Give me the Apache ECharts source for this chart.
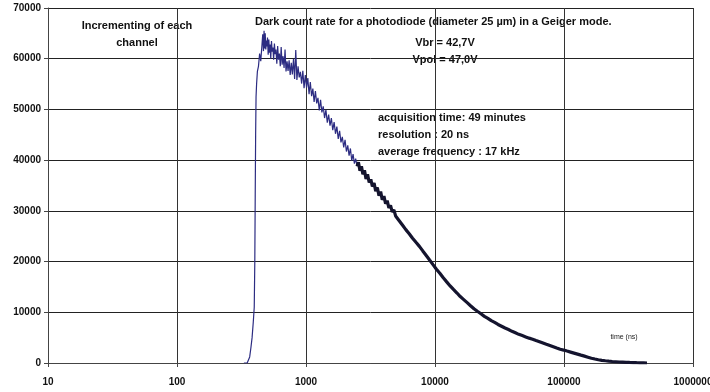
<!DOCTYPE html>
<html><head><meta charset="utf-8">
<script src="https://cdn.jsdelivr.net/npm/echarts@6/dist/echarts.min.js"></script>
<style>html,body{margin:0;padding:0;background:#fff}#c{width:710px;height:392px}</style>
</head><body><div id="c"></div>
<script>
// x tick labels (log axis, ns) and y tick labels
const xTickLabels = ['10','100','1000','10000','100000','1000000'];
const yTickLabels = ['0','10000','20000','30000','40000','50000','60000','70000'];

// rising edge and noisy peak region (thin line)
const earlyX = [330,350,358,366,374,382,390,397,401,404,407,410,414,420,428,437,446,455,462,468,473,478,483,488,493,498,503,509,515,521,527,533,540,547,554,561,569,577,585,594,603,612,622,632,642,653,664,676,688,700,713,726,740,754,769,784,800,816,833,850,868,886,905,925,945,966,988,1010,1033,1056,1080,1105,1130,1156,1183,1210,1238,1267,1297,1328,1360,1393,1427,1462,1498,1535,1573,1612,1652,1693,1735,1778,1822,1867,1913,1960,2008,2057,2107,2158,2210,2263,2317,2372,2428,2485];
const earlyY = [0,0,300,1200,3000,5000,8000,11000,20000,33000,45000,52500,55000,57500,58500,61000,59500,62500,64800,61500,65500,62000,65000,61800,63600,62400,64200,60800,63800,61200,62800,60000,63500,61400,62200,59800,63000,60900,61800,59000,62500,59800,61000,58500,62300,58800,60500,58200,61800,57500,59500,57600,59700,56800,59200,56900,60000,56000,61700,55800,58500,56300,57400,55100,57600,54200,56800,54300,56200,53000,55400,52600,54100,51500,53600,51200,52300,49800,51900,49400,50600,48300,49900,47400,49000,46800,48300,45900,47500,45200,46600,44200,45800,43500,44600,42500,44000,41700,42900,40900,42300,39900,41200,39300,40300,38800];

// decay tail (dense, drawn thick)
const tailX = [2485,2550,2620,2690,2760,2840,2920,3000,3090,3180,3270,3370,3470,3570,3680,3790,3900,4020,4140,4260,4390,4520,4660,4800,4950,5100,5260,5420,5590,5760,5940,6120,6310,6500,6700,6910,7120,7340,7570,7800,8040,8290,8550,8810,9080,9360,9650,9950,10260,10900,11590,12320,13100,13900,14800,15700,16700,17750,18850,20050,21300,22700,24150,25700,27300,29000,30800,32800,34900,37100,39500,42000,44600,47500,50500,53700,57100,60700,64600,68700,73000,77700,82600,87800,93400,99300,105600,112400,119600,127300,135400,144100,153300,163100,173500,184600,196400,209000,222400,236600,251800,267900,285000,303300,322700,343300,365300,388700,413500,440000];
const tailY = [38800,39600,37900,38800,37200,38000,36300,37200,35600,36200,34800,35500,33900,34600,33000,33800,32200,32900,31400,32000,30600,31100,29800,30200,29000,29300,28100,28400,27200,27500,26300,26600,25500,25700,24600,24800,23800,23900,23000,23000,22100,22000,21200,21100,20300,20100,19400,19200,18500,17700,16800,16000,15200,14500,13800,13100,12500,11900,11300,10700,10200,9700,9200,8800,8350,8000,7600,7250,6900,6600,6250,5950,5650,5400,5150,4900,4700,4450,4200,3950,3700,3450,3200,2950,2700,2550,2350,2150,1950,1750,1550,1350,1150,950,780,640,530,440,360,300,250,200,170,140,110,90,60,40,20,0];

const zip = (xs, ys) => xs.map((x, i) => [x, ys[i]]);

const chart = echarts.init(document.getElementById('c'), null, {renderer: 'canvas'});
const FONT = "'Liberation Sans', Arial, sans-serif";
const TXT = 'bold 11px ' + FONT;
chart.setOption({
  animation: false,
  backgroundColor: '#fff',
  grid: {left: 48, right: 17, top: 8, bottom: 29, containLabel: false, outerBoundsMode: 'none'},
  xAxis: {
    type: 'log', logBase: 10, min: 10, max: 1000000,
    axisLine: {show: true, lineStyle: {color: '#444', width: 1}},
    axisTick: {show: true, length: 4, lineStyle: {color: '#444'}},
    minorTick: {show: false},
    splitLine: {show: true, lineStyle: {color: '#333', width: 1}},
    axisLabel: {
      margin: 14, color: '#111', fontFamily: FONT, fontSize: 10, fontWeight: 'bold',
      hideOverlap: false,
      formatter: v => xTickLabels[Math.round(Math.log10(v)) - 1] || ''
    }
  },
  yAxis: {
    type: 'value', min: 0, max: 70000, interval: 10000,
    axisLine: {show: true, lineStyle: {color: '#444', width: 1}},
    axisTick: {show: true, length: 4, lineStyle: {color: '#444'}},
    splitLine: {show: true, lineStyle: {color: '#222', width: 1}},
    axisLabel: {
      margin: 7, color: '#111', fontFamily: FONT, fontSize: 10, fontWeight: 'bold',
      formatter: v => yTickLabels[Math.round(v / 10000)]
    }
  },
  series: [
    {type: 'line', data: zip(earlyX, earlyY), symbol: 'none', lineStyle: {color: '#2c2c82', width: 1.2}, z: 3},
    {type: 'line', data: zip(tailX, tailY), symbol: 'none', lineStyle: {color: '#14142e', width: 3.2}, z: 3}
  ],
  graphic: [
    {type: 'text', x: 137, y: 26, style: {text: 'Incrementing of each', font: TXT, fill: '#111', align: 'center', verticalAlign: 'middle'}},
    {type: 'text', x: 137, y: 43, style: {text: 'channel', font: TXT, fill: '#111', align: 'center', verticalAlign: 'middle'}},
    {type: 'text', x: 255, y: 22, style: {text: 'Dark count rate for a photodiode (diameter 25 µm) in a Geiger mode.', font: TXT, fill: '#111', align: 'left', verticalAlign: 'middle'}},
    {type: 'text', x: 445, y: 43, style: {text: 'Vbr = 42,7V', font: TXT, fill: '#111', align: 'center', verticalAlign: 'middle'}},
    {type: 'text', x: 445, y: 60, style: {text: 'Vpol = 47,0V', font: TXT, fill: '#111', align: 'center', verticalAlign: 'middle'}},
    {type: 'text', x: 378, y: 118, style: {text: 'acquisition time: 49 minutes', font: TXT, fill: '#111', align: 'left', verticalAlign: 'middle'}},
    {type: 'text', x: 378, y: 135, style: {text: 'resolution : 20 ns', font: TXT, fill: '#111', align: 'left', verticalAlign: 'middle'}},
    {type: 'text', x: 378, y: 152, style: {text: 'average frequency : 17 kHz', font: TXT, fill: '#111', align: 'left', verticalAlign: 'middle'}},
    {type: 'text', x: 624, y: 337, style: {text: 'time (ns)', font: '7px ' + FONT, fill: '#222', align: 'center', verticalAlign: 'middle'}}
  ]
});
</script></body></html>
